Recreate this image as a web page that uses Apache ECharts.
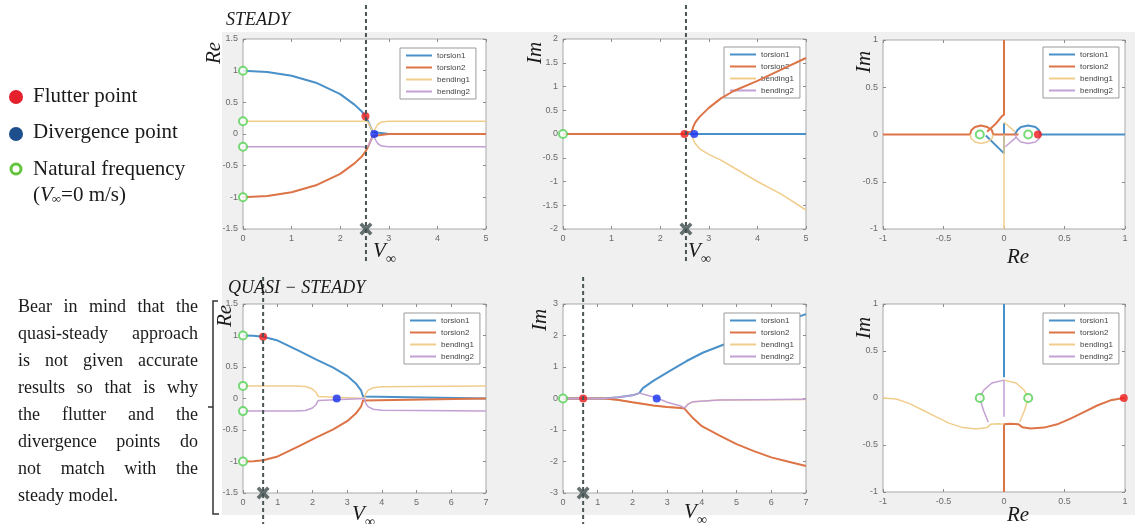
<!DOCTYPE html>
<html><head><meta charset="utf-8">
<script src="https://cdn.jsdelivr.net/npm/echarts@6/dist/echarts.min.js"></script>
<style>html,body{margin:0;padding:0;background:#fff}#c{width:1135px;height:524px}</style>
</head><body><div id="c"></div>
<script>
// ---------- series names / styling ----------
const seriesNames = ['torsion1', 'torsion2', 'bending1', 'bending2'];
const seriesColors = ['#4a90c9', '#dc7447', '#f1cd8c', '#c3a0d3'];
const seriesWidths = [2, 2, 1.5, 1.5];

// ---------- axis ranges [min, max, interval] ----------
const steadyVRange = [0, 5, 1];
const steadyReRange = [-1.5, 1.5, 0.5];
const steadyImRange = [-2, 2, 0.5];
const locusRange = [-1, 1, 0.5];
const quasiVRange = [0, 7, 1];
const quasiReRange = [-1.5, 1.5, 0.5];
const quasiImRange = [-3, 3, 1];

// ---------- STEADY: Re vs V ----------
const stReT1 = [[0,1],[0.5,0.98],[1,0.92],[1.5,0.81],[2,0.63],[2.3,0.46],[2.45,0.35],[2.52,0.28],[2.58,0.19],[2.63,0.1],[2.67,0.03],[2.7,0],[3,0],[4,0],[5,0]];
const stReT2 = [[0,-1],[0.5,-0.98],[1,-0.92],[1.5,-0.81],[2,-0.63],[2.3,-0.46],[2.45,-0.35],[2.52,-0.28],[2.58,-0.19],[2.63,-0.1],[2.67,-0.03],[2.7,0],[3,0],[4,0],[5,0]];
const stReB1 = [[0,0.2],[2.45,0.2],[2.52,0.21],[2.58,0.18],[2.63,0.1],[2.68,0.03],[2.72,0.08],[2.77,0.15],[2.85,0.19],[3,0.2],[5,0.2]];
const stReB2 = [[0,-0.2],[2.45,-0.2],[2.52,-0.21],[2.58,-0.18],[2.63,-0.1],[2.68,-0.03],[2.72,-0.08],[2.77,-0.15],[2.85,-0.19],[3,-0.2],[5,-0.2]];
// ---------- STEADY: Im vs V ----------
const stImT1 = [[0,0],[5,0]];
const stImT2 = [[0,0],[2.5,0],[2.58,0.04],[2.65,0.05],[2.68,0.15],[2.72,0.24],[2.8,0.35],[3,0.55],[3.25,0.75],[3.5,0.9],[4,1.12],[4.5,1.36],[5,1.6]];
const stImB1 = [[0,0],[2.66,0],[2.68,-0.12],[2.72,-0.2],[2.82,-0.32],[3,-0.43],[3.25,-0.55],[3.5,-0.7],[4,-1],[4.5,-1.27],[5,-1.6]];
const stImB2 = [[0,0],[5,0]];
// ---------- STEADY: root locus (Re, Im) ----------
const stLocT1 = [[1,0],[0.3,0],[0.29,0.045],[0.26,0.08],[0.2,0.095],[0.14,0.08],[0.11,0.045],[0.09,0],null,[-0.15,-0.01],[0,-0.2],[0,0.12]];
const stLocT2 = [[-1,0],[-0.28,0],[-0.27,0.045],[-0.24,0.08],[-0.19,0.095],[-0.14,0.08],[-0.1,0.045],[-0.09,0],[0.12,0],null,[-0.14,0.03],[-0.07,0.11],[-0.02,0.19],[0,0.21],[0,1]];
const stLocB1 = [[-0.28,0],[-0.27,-0.045],[-0.24,-0.08],[-0.19,-0.095],[-0.14,-0.08],[-0.1,-0.045],[-0.09,0],null,[0,0],[0,-1],null,[0,0.13],[0.09,0.03]];
const stLocB2 = [[0.3,0],[0.29,-0.045],[0.26,-0.08],[0.2,-0.095],[0.14,-0.08],[0.11,-0.045],[0.09,0],null,[0.01,-0.13],[0.1,-0.03]];

// ---------- QUASI-STEADY: Re vs V ----------
const qsReT1 = [[0,1],[0.3,0.995],[0.58,0.98],[1,0.92],[1.6,0.76],[2.1,0.62],[2.6,0.49],[3,0.36],[3.25,0.24],[3.4,0.13],[3.46,0.03],[3.48,0],[7,0]];
const qsReT2 = [[0,-1],[0.3,-0.995],[0.58,-0.98],[1,-0.92],[1.6,-0.76],[2.1,-0.62],[2.6,-0.49],[3,-0.36],[3.25,-0.24],[3.4,-0.13],[3.46,-0.03],[3.48,0],[7,0]];
const qsReB1 = [[0,0.2],[1.5,0.2],[1.8,0.19],[2,0.15],[2.1,0.1],[2.17,0.03],[2.2,0],[3.5,0],[3.53,0.07],[3.6,0.13],[3.75,0.17],[4,0.185],[5,0.19],[7,0.2]];
const qsReB2 = [[0,-0.2],[1.5,-0.2],[1.8,-0.19],[2,-0.15],[2.1,-0.1],[2.17,-0.03],[2.2,0],[3.5,0],[3.53,-0.07],[3.6,-0.13],[3.75,-0.17],[4,-0.185],[5,-0.19],[7,-0.2]];
// ---------- QUASI-STEADY: Im vs V ----------
const qsImT1 = [[0,0],[1.2,0],[1.6,0.04],[2,0.1],[2.2,0.17],[2.3,0.33],[2.6,0.56],[3.08,0.88],[3.56,1.19],[4.04,1.46],[4.6,1.7],[5,1.87],[6,2.3],[7,2.68]];
const qsImT2 = [[0,0],[1.2,0],[1.6,-0.05],[2,-0.12],[2.6,-0.22],[3,-0.27],[3.4,-0.3],[3.5,-0.32],[3.6,-0.45],[3.75,-0.63],[4,-0.88],[4.5,-1.17],[5,-1.45],[5.5,-1.67],[6,-1.87],[6.5,-2.01],[7,-2.14]];
const qsImB1 = [[0,0],[1.2,0],[1.6,-0.05],[2,-0.12],[2.6,-0.22],[3,-0.27],[3.5,-0.31],[3.6,-0.18],[3.75,-0.1],[4.5,-0.05],[7,-0.03]];
const qsImB2 = [[0,0],[1.2,0],[1.6,0.04],[2,0.1],[2.2,0.17],[2.4,0.11],[2.7,0.02],[3,-0.12],[3.37,-0.23],[3.5,-0.3],[3.6,-0.18],[3.75,-0.1],[4.5,-0.05],[5.5,-0.04],[7,-0.02]];
// ---------- QUASI-STEADY: root locus (Re, Im) ----------
const qsLocT1 = [[0,1],[0,0.22]];
const qsLocT2 = [[0.99,0],[0.88,-0.025],[0.77,-0.08],[0.66,-0.15],[0.55,-0.22],[0.44,-0.28],[0.33,-0.315],[0.22,-0.325],[0.15,-0.31],[0.12,-0.28],[0.05,-0.275],[0,-0.28],[0,-1]];
const qsLocB1 = [[-1,0],[-0.89,-0.01],[-0.78,-0.06],[-0.67,-0.13],[-0.56,-0.2],[-0.45,-0.27],[-0.34,-0.315],[-0.23,-0.33],[-0.14,-0.315],[-0.11,-0.28],[-0.05,-0.275],[0,-0.28],null,[0,0.19],[0.1,0.16],[0.17,0.08],[0.2,0],[0.17,-0.13],[0.13,-0.255]];
const qsLocB2 = [[0,0.19],[-0.1,0.16],[-0.17,0.08],[-0.2,0],[-0.17,-0.13],[-0.13,-0.255],null,[0,0.19],[0,-0.2]];

// ---------- special points ----------
const stReFlutter = [[2.52,0.28]], stReDiv = [[2.7,0]], stReNat = [[0,1],[0,0.2],[0,-0.2],[0,-1]];
const stImFlutter = [[2.5,0]], stImDiv = [[2.7,0]], stImNat = [[0,0]];
const stLocFlutter = [[0.28,0]], stLocNat = [[-0.2,0],[0.2,0]];
const qsReFlutter = [[0.58,0.98]], qsReDiv = [[2.7,0]], qsReNat = [[0,1],[0,0.2],[0,-0.2],[0,-1]];
const qsImFlutter = [[0.58,0]], qsImDiv = [[2.7,0]], qsImNat = [[0,0]];
const qsLocFlutter = [[0.99,0]], qsLocNat = [[-0.2,0],[0.2,0]];
const steadyCritV = 2.53;
const quasiCritV = 0.58;

// ---------- texts ----------
const legendTexts = ['Flutter point', 'Divergence point', 'Natural frequency'];
const noteLines = ['Bear in mind that the', 'quasi-steady approach', 'is not given accurate', 'results so that is why', 'the flutter and the', 'divergence points do', 'not match with the', 'steady model.'];

const SANS = '"Liberation Sans", Arial, sans-serif';
const SERIF = '"Liberation Serif", "Times New Roman", serif';

const panels = [
  {g:{left:243,top:39,width:243,height:190}, x:steadyVRange, y:steadyReRange, lines:[stReT1,stReT2,stReB1,stReB2], z:[2,3,4,5], fl:stReFlutter, dv:stReDiv, nt:stReNat, cr:[[steadyCritV, steadyReRange[0]]], lg:[400,48]},
  {g:{left:563,top:39,width:243,height:190}, x:steadyVRange, y:steadyImRange, lines:[stImT1,stImT2,stImB1,stImB2], z:[4,5,2,3], fl:stImFlutter, dv:stImDiv, nt:stImNat, cr:[[steadyCritV, steadyImRange[0]]], lg:[724,47]},
  {g:{left:883,top:40,width:242,height:189}, x:locusRange, y:locusRange, lines:[stLocT1,stLocT2,stLocB1,stLocB2], z:[2,3,4,5], fl:stLocFlutter, dv:[], nt:stLocNat, cr:[], lg:[1043,47]},
  {g:{left:243,top:304,width:243,height:189}, x:quasiVRange, y:quasiReRange, lines:[qsReT1,qsReT2,qsReB1,qsReB2], z:[2,3,4,5], fl:qsReFlutter, dv:qsReDiv, nt:qsReNat, cr:[[quasiCritV, quasiReRange[0]]], lg:[404,313]},
  {g:{left:563,top:304,width:243,height:189}, x:quasiVRange, y:quasiImRange, lines:[qsImT1,qsImT2,qsImB1,qsImB2], z:[2,3,1,4], fl:qsImFlutter, dv:qsImDiv, nt:qsImNat, cr:[[quasiCritV, quasiImRange[0]]], lg:[724,313]},
  {g:{left:883,top:304,width:242,height:188}, x:locusRange, y:locusRange, lines:[qsLocT1,qsLocT2,qsLocB1,qsLocB2], z:[2,3,4,5], fl:qsLocFlutter, dv:[], nt:qsLocNat, cr:[], lg:[1043,313]}
];

function axis(kind, gi, r, mirror) {
  const a = {
    type:'value', gridIndex:gi, min:r[0], max:r[1], interval:r[2],
    axisLine:{show:false, onZero:false},
    axisTick:{show:true, inside:true, length:3, lineStyle:{color:'#8c8c8c', width:1}},
    axisLabel:{show:!mirror, fontSize:9, color:'#6a6a6a', fontFamily:SANS, margin:5, showMinLabel:true, showMaxLabel:true},
    splitLine:{show:false}
  };
  a.position = kind === 'x' ? (mirror ? 'top' : 'bottom') : (mirror ? 'right' : 'left');
  return a;
}

const grid = [], xAxis = [], yAxis = [], legend = [], series = [];
panels.forEach((p, i) => {
  grid.push(Object.assign({show:true, backgroundColor:'#fff', borderColor:'#a9a9a9', borderWidth:1}, p.g));
  xAxis.push(axis('x', i, p.x, false));
  yAxis.push(axis('y', i, p.y, false));
});
panels.forEach((p, i) => {
  xAxis.push(axis('x', i, p.x, true));
  yAxis.push(axis('y', i, p.y, true));
});
panels.forEach((p, i) => {
  legend.push({
    data: seriesNames.map((n, k) => ({name:n, icon:'rect', itemStyle:{color:seriesColors[k]}})),
    orient:'vertical', left:p.lg[0], top:p.lg[1],
    itemWidth:26, itemHeight:2, itemGap:3, padding:[3,6,3,6],
    backgroundColor:'#fff', borderColor:'#9a9a9a', borderWidth:1, borderRadius:0,
    textStyle:{fontSize:8, color:'#444', fontFamily:SANS, lineHeight:9}, selectedMode:false
  });
  p.lines.forEach((d, k) => {
    series.push({
      type:'line', name:seriesNames[k], xAxisIndex:i, yAxisIndex:i, data:d,
      symbol:'none', showSymbol:false, connectNulls:false, smooth:false, z:p.z[k], silent:true,
      lineStyle:{color:seriesColors[k], width:seriesWidths[k]}, itemStyle:{color:seriesColors[k]}
    });
  });
  series.push({type:'scatter', name:'natural', xAxisIndex:i, yAxisIndex:i, data:p.nt, symbol:'emptyCircle', symbolSize:8, z:8, silent:true,
    itemStyle:{color:'#55d155', borderColor:'#55d155', borderWidth:1.5}});
  series.push({type:'scatter', name:'flutter', xAxisIndex:i, yAxisIndex:i, data:p.fl, symbol:'circle', symbolSize:8, z:9, silent:true,
    itemStyle:{color:'#f01a1a'}});
  series.push({type:'scatter', name:'divergence', xAxisIndex:i, yAxisIndex:i, data:p.dv, symbol:'circle', symbolSize:8, z:9, silent:true,
    itemStyle:{color:'#1430f0'}});
  series.push({type:'scatter', name:'critical', xAxisIndex:i, yAxisIndex:i, data:p.cr,
    symbol:'path://M0,2 L2,0 L5,3 L8,0 L10,2 L7,5 L10,8 L8,10 L5,7 L2,10 L0,8 L3,5 Z', symbolSize:13, z:60, silent:true,
    itemStyle:{color:'#3f4c4c'}});
});

const chart = echarts.init(document.getElementById('c'), null, {renderer:'canvas'});
chart.setOption({animation:false, grid, xAxis, yAxis, legend, series});

// ---------- decorative text / annotation graphics ----------
const measureCtx = document.createElement('canvas').getContext('2d');
function measure(t, font) { measureCtx.font = font; return measureCtx.measureText(t).width; }
function txt(t, x, y, size, opts) {
  opts = opts || {};
  return {type:'text', x:x, y:y, z:100, rotation:opts.rotation || 0, silent:true,
    style:{text:t, fontSize:size, fontFamily:opts.family || SERIF, fontStyle:opts.italic ? 'italic' : 'normal',
      fill:opts.fill || '#1a1a1a', align:opts.align || 'left', verticalAlign:'middle'}};
}
const G = [];
G.push({type:'rect', z:-10, silent:true, shape:{x:222, y:32, width:913, height:483}, style:{fill:'#f0f0f0'}});

// titles
G.push(txt('STEADY', 226, 20, 18, {italic:true}));
G.push(txt('QUASI \u2212 STEADY', 228, 288, 18, {italic:true}));

// y-axis names (rotated)
[['Re',214,53],['Im',535,53],['Im',864,62],['Re',225,316],['Im',540,320],['Im',864,328]].forEach(a => {
  G.push(txt(a[0], a[1], a[2], 21, {italic:true, rotation:Math.PI/2, align:'center'}));
});
// x-axis names
function vInf(x, y) {
  G.push(txt('V', x, y, 21, {italic:true}));
  G.push(txt('\u221E', x + 13, y + 8, 14));
}
vInf(373, 251); vInf(688, 251); vInf(352, 514); vInf(684, 512);
G.push(txt('Re', 1018, 257, 21, {italic:true, align:'center'}));
G.push(txt('Re', 1018, 515, 21, {italic:true, align:'center'}));

// dashed critical-speed lines
function dashed(axisIdx, v, y1, y2) {
  const px = chart.convertToPixel({xAxisIndex:axisIdx}, v);
  G.push({type:'line', z:50, silent:true, shape:{x1:px, y1:y1, x2:px, y2:y2},
    style:{stroke:'#4a5555', lineWidth:2, lineDash:[4,3]}});
}
dashed(0, steadyCritV, 5, 262);
dashed(1, steadyCritV, 5, 262);
dashed(3, quasiCritV, 277, 524);
dashed(4, quasiCritV, 277, 524);

// left legend
G.push({type:'circle', z:100, silent:true, shape:{cx:16, cy:97, r:7}, style:{fill:'#e3202c'}});
G.push({type:'circle', z:100, silent:true, shape:{cx:16, cy:134, r:7}, style:{fill:'#1d4f8c'}});
G.push({type:'circle', z:100, silent:true, shape:{cx:16, cy:169, r:5}, style:{fill:'none', stroke:'#62c43c', lineWidth:3}});
G.push(txt(legendTexts[0], 33, 96, 21));
G.push(txt(legendTexts[1], 33, 132, 21));
G.push(txt(legendTexts[2], 33, 169, 21));
(function () {
  let x = 33; const y = 195;
  G.push(txt('(', x, y, 21)); x += measure('(', '21px ' + SERIF);
  G.push(txt('V', x, y, 21, {italic:true})); x += measure('V', 'italic 21px ' + SERIF);
  G.push(txt('\u221E', x - 1, y + 5, 13)); x += measure('\u221E', '13px ' + SERIF) - 1;
  G.push(txt('=0 m/s)', x, y, 21));
})();

// justified note paragraph
(function () {
  const x0 = 18, x1 = 198, y0 = 307, dy = 27.1, size = 18, font = size + 'px ' + SERIF;
  noteLines.forEach((ln, i) => {
    const y = y0 + i * dy;
    const words = ln.split(' ');
    if (i === noteLines.length - 1 || words.length < 2) { G.push(txt(ln, x0, y, size)); return; }
    const total = words.reduce((s, w) => s + measure(w, font), 0);
    const gap = (x1 - x0 - total) / (words.length - 1);
    let x = x0;
    words.forEach(w => { G.push(txt(w, x, y, size)); x += measure(w, font) + gap; });
  });
})();

// bracket
G.push({type:'polyline', z:100, silent:true, shape:{points:[[218,301],[213,301],[213,514],[219,514]]}, style:{stroke:'#333', lineWidth:1.5, fill:'none'}});
G.push({type:'line', z:100, silent:true, shape:{x1:208, y1:407, x2:213, y2:407}, style:{stroke:'#333', lineWidth:1.5}});

chart.setOption({graphic:{elements:G}});
</script></body></html>
